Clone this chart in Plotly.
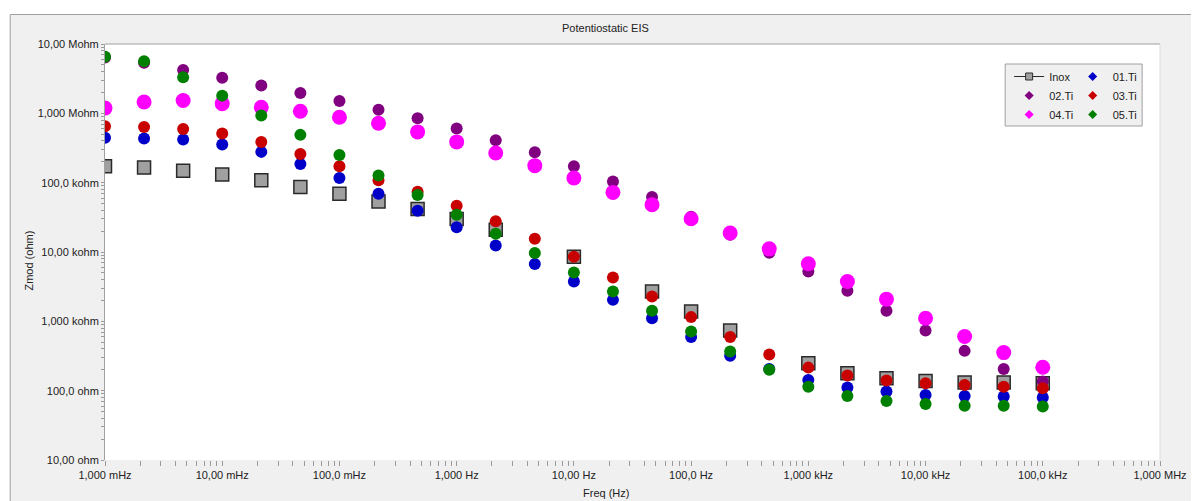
import plotly.graph_objects as go

# ---------------- data ----------------
freq_hz = [0.001, 0.002154, 0.004642, 0.01, 0.02154, 0.04642, 0.1, 0.2154, 0.4642,
           1.0, 2.154, 4.642, 10.0, 21.54, 46.42, 100.0, 215.4, 464.2,
           1000.0, 2154.0, 4642.0, 10000.0, 21540.0, 46420.0, 100000.0]

zmod_inox = [172e3, 165e3, 148e3, 131e3, 108e3, 86.7e3, 69.3e3, 53.7e3, 41.7e3,
             29.9e3, 20.9e3, None, 8.54e3, None, 2.69e3, 1.39e3, 736, None,
             249, 179, 151, 138, 131, 131, 128]
zmod_01ti = [443e3, 432e3, 418e3, 354e3, 278e3, 186e3, 117e3, 69.3e3, 39.4e3,
             22.8e3, 12.4e3, 6.70e3, 3.76e3, 2.04e3, 1.11e3, 592, 318, 206,
             143, 111, 96.9, 86.9, 84.0, 82.1, 79.4]
zmod_02ti = [6.38e6, 5.35e6, 4.21e6, 3.25e6, 2.52e6, 1.97e6, 1.51e6, 1.13e6, 849e3,
             602e3, 408e3, 274e3, 172e3, 104e3, 62.2e3, 32.3e3, 17.7e3, 9.75e3,
             5.24e3, 2.76e3, 1.42e3, 736, 375, 206, 136]
zmod_03ti = [650e3, 637e3, 596e3, 510e3, 387e3, 260e3, 172e3, 108e3, 74.1e3,
             46.6e3, 27.8e3, 15.5e3, 8.54e3, 4.29e3, 2.28e3, 1.15e3, 593, 332,
             215, 165, 140, 128, 121, 114, 108]
zmod_04ti = [1.19e6, 1.46e6, 1.53e6, 1.38e6, 1.22e6, 1.07e6, 877e3, 718e3, 540e3,
             387e3, 268e3, 176e3, 117e3, 72.4e3, 48.1e3, 30.2e3, 18.8e3, 11.1e3,
             6.77e3, 3.76e3, 2.09e3, 1.11e3, 604, 354, 218]
zmod_05ti = [6.53e6, 5.65e6, 3.32e6, 1.80e6, 929e3, 489e3, 251e3, 127e3, 66.4e3,
             34.5e3, 18.4e3, 9.66e3, 5.07e3, 2.69e3, 1.42e3, 713, 366, 200,
             114, 84.0, 71.1, 64.4, 60.8, 60.8, 58.9]

x_major_vals = [1e-3, 1e-2, 1e-1, 1e0, 1e1, 1e2, 1e3, 1e4, 1e5, 1e6]
x_major_text = ["1,000 mHz", "10,00 mHz", "100,0 mHz", "1,000 Hz", "10,00 Hz",
                "100,0 Hz", "1,000 kHz", "10,00 kHz", "100,0 kHz", "1,000 MHz"]
y_major_vals = [1e1, 1e2, 1e3, 1e4, 1e5, 1e6, 1e7]
y_major_text = ["10,00 ohm", "100,0 ohm", "1,000 kohm", "10,00 kohm",
                "100,0 kohm", "1,000 Mohm", "10,00 Mohm"]

# ---------------- styling ----------------
FONT = "Liberation Sans, Arial, sans-serif"
TXT = "#222222"
TICKC = "#9a9a9a"
PAGE_OFF = 8                      # default page margin around the figure
W, H = 1199 - PAGE_OFF, 501 - PAGE_OFF
PX_L, PX_R, PX_T, PX_B = 105, 1168, 44, 460   # plot area in screen pixels
PW, PH = PX_R - PX_L, PX_B - PX_T
L, T = PX_L - PAGE_OFF, PX_T - PAGE_OFF
R, B = W - L - PW, H - T - PH


def px_x(px):
    return (px - PX_L) / PW


def px_y(py):
    return (PX_B - py) / PH


x_minor = [m * 10 ** e for e in range(-3, 6) for m in range(2, 10)]
y_minor = [m * 10 ** e for e in range(1, 7) for m in range(2, 10)]

series = [
    ("Inox", zmod_inox, "square", 13, "#a0a0a0", dict(color="#2a2a2a", width=1.5), "legend"),
    ("01.Ti", zmod_01ti, "circle", 12, "#0000c8", dict(width=0), "legend2"),
    ("02.Ti", zmod_02ti, "circle", 12, "#800080", dict(width=0), "legend"),
    ("03.Ti", zmod_03ti, "circle", 12, "#c80000", dict(width=0), "legend2"),
    ("04.Ti", zmod_04ti, "circle", 15, "#ff00ff", dict(width=0), "legend"),
    ("05.Ti", zmod_05ti, "circle", 12, "#008000", dict(width=0), "legend2"),
]

fig = go.Figure()
for name, vals, sym, size, col, mline, _ in series:
    fig.add_trace(go.Scatter(
        x=freq_hz, y=vals, mode="markers", name=name, showlegend=False,
        marker=dict(symbol=sym, size=size, color=col, line=mline),
    ))

# legend entries (small symbols like the original legend)
for name, vals, sym, size, col, mline, lg in series:
    if name == "Inox":
        fig.add_trace(go.Scatter(
            x=[None], y=[None], mode="lines+markers", name=name, legend=lg,
            line=dict(color="#2a2a2a", width=1),
            marker=dict(symbol="square", size=7, color=col,
                        line=dict(color="#2a2a2a", width=1)),
        ))
    else:
        fig.add_trace(go.Scatter(
            x=[None], y=[None], mode="markers", name=name, legend=lg,
            marker=dict(symbol="diamond", size=7, color=col),
        ))

fig.update_layout(
    width=W, height=H,
    margin=dict(l=L, r=R, t=T, b=B, pad=0),
    paper_bgcolor="white",
    plot_bgcolor="white",
    font=dict(family=FONT, size=11, color=TXT),
    xaxis=dict(
        type="log", range=[-3, 6],
        tickvals=x_major_vals + x_minor,
        ticktext=x_major_text + [""] * len(x_minor),
        ticks="outside", ticklen=5, tickcolor=TICKC, tickwidth=1,
        showgrid=False, zeroline=False, showline=False,
        tickfont=dict(family=FONT, size=11, color=TXT),
        tickangle=0,
    ),
    yaxis=dict(
        type="log", range=[1, 7],
        tickvals=y_major_vals + y_minor,
        ticktext=y_major_text + [""] * len(y_minor),
        ticks="outside", ticklen=3, tickcolor=TICKC, tickwidth=1,
        showgrid=False, zeroline=False,
        showline=True, linecolor="#a0a0a0", linewidth=1,
        tickfont=dict(family=FONT, size=11, color=TXT),
    ),
    legend=dict(
        x=px_x(1016), y=px_y(62), xanchor="left", yanchor="top",
        bgcolor="rgba(0,0,0,0)", borderwidth=0,
        font=dict(family=FONT, size=11, color=TXT),
        tracegroupgap=0, itemwidth=30,
    ),
    legend2=dict(
        x=px_x(1080), y=px_y(62), xanchor="left", yanchor="top",
        bgcolor="rgba(0,0,0,0)", borderwidth=0,
        font=dict(family=FONT, size=11, color=TXT),
        tracegroupgap=0, itemwidth=30,
    ),
    shapes=[
        # outer grey panel
        dict(type="rect", xref="paper", yref="paper", layer="below",
             x0=px_x(9.5), x1=px_x(1210), y0=px_y(510), y1=px_y(14.5),
             fillcolor="#f0f0f0", line=dict(color="#a0a0a0", width=1)),
        # white plotting area
        dict(type="rect", xref="paper", yref="paper", layer="below",
             x0=0, x1=1, y0=0, y1=1, fillcolor="white", line=dict(width=0)),
        # plot area top edge
        dict(type="line", xref="paper", yref="paper", layer="below",
             x0=0, x1=1, y0=1, y1=1, line=dict(color="#a0a0a0", width=1)),
        # plot area right edge
        dict(type="line", xref="paper", yref="paper", layer="below",
             x0=1, x1=1, y0=0, y1=1, line=dict(color="#dcdcdc", width=1)),
        # legend box
        dict(type="rect", xref="paper", yref="paper", layer="above",
             x0=px_x(1012), x1=px_x(1150), y0=px_y(126), y1=px_y(64),
             fillcolor="#f0f0f0", line=dict(color="#a0a0a0", width=1)),
    ],
    annotations=[
        dict(text="Potentiostatic EIS", xref="paper", yref="paper",
             x=px_x(609), y=px_y(28), xanchor="center", yanchor="middle",
             showarrow=False, font=dict(family=FONT, size=11, color=TXT)),
        dict(text="Zmod (ohm)", xref="paper", yref="paper",
             x=px_x(28), y=px_y(261), xanchor="center", yanchor="middle",
             textangle=-90, showarrow=False,
             font=dict(family=FONT, size=11, color=TXT)),
        dict(text="Freq (Hz)", xref="paper", yref="paper",
             x=px_x(610), y=px_y(493), xanchor="center", yanchor="middle",
             showarrow=False, font=dict(family=FONT, size=11, color=TXT)),
    ],
)

fig.write_html("out.html")
